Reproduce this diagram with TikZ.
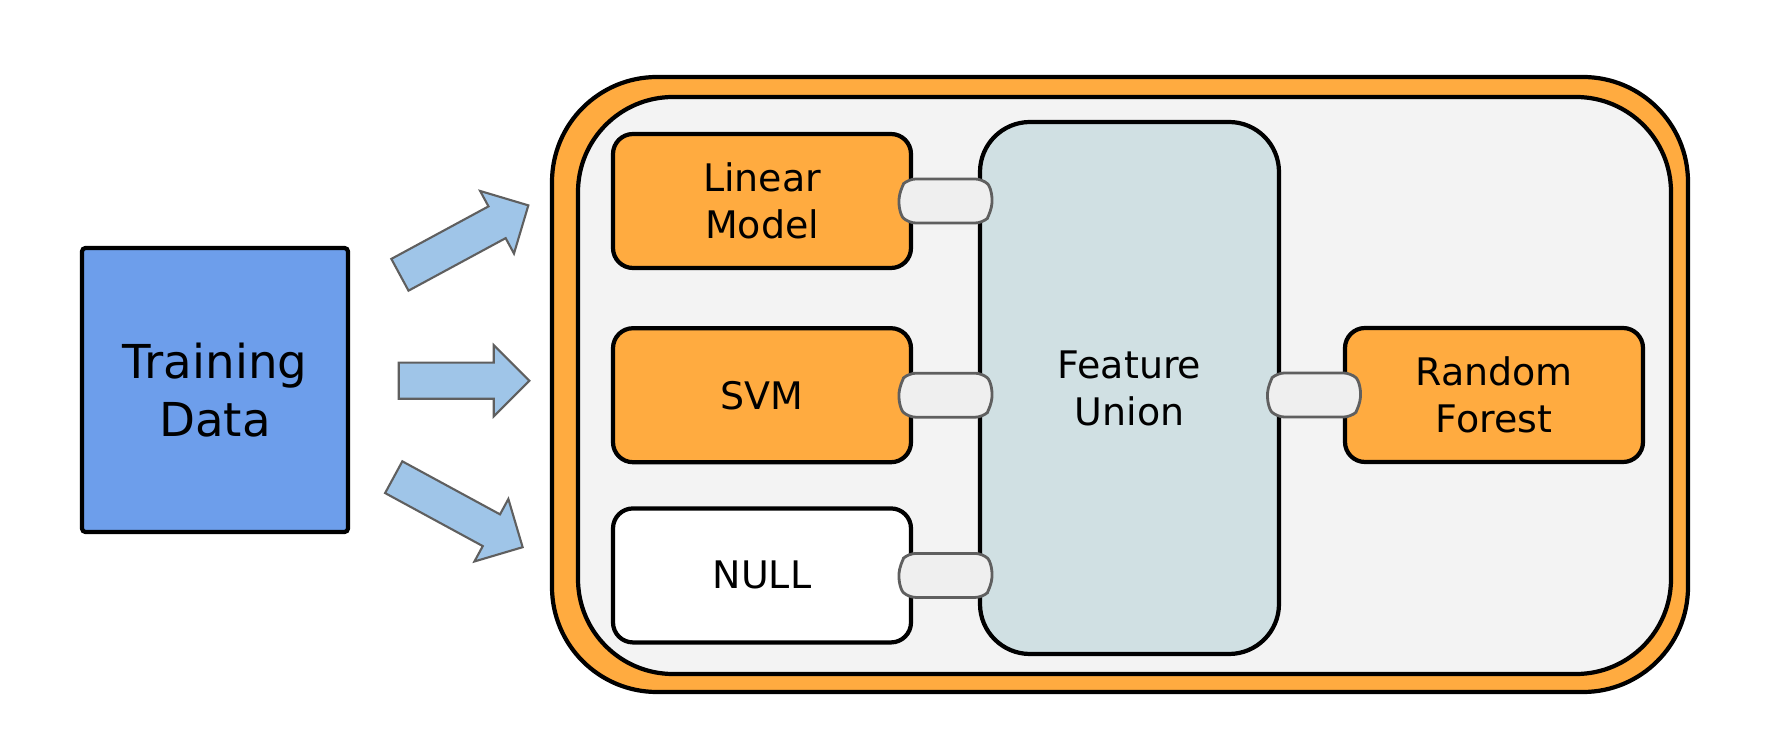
\documentclass[tikz,border=0pt]{standalone}
\usepackage{fontspec}
\setmainfont{DejaVu Sans}
\usetikzlibrary{shapes.arrows,shapes.misc,positioning,calc}

\definecolor{dataBlue}{HTML}{6D9EEB}
\definecolor{arrowBlue}{HTML}{9FC5E8}
\definecolor{boxOrange}{HTML}{FFAB40}
\definecolor{unionCyan}{HTML}{D0E0E3}
\definecolor{panelGray}{HTML}{F3F3F3}
\definecolor{linkGray}{HTML}{EFEFEF}
\definecolor{edgeGray}{HTML}{5F5F5F}

\begin{document}
\begin{tikzpicture}[
    data/.style={rectangle, draw, line width=1.2pt, fill=dataBlue, rounded corners=1pt, minimum width=2.66cm, minimum height=2.84cm, align=center, font=\fontsize{13.3}{16.5}\selectfont},
    model/.style={rectangle, draw, line width=1.2pt, fill=boxOrange, rounded corners=0.2cm, minimum width=2.98cm, minimum height=1.34cm, align=center, font=\fontsize{10.8}{13.4}\selectfont},
    union/.style={model, fill=unionCyan, rounded corners=0.5cm, minimum width=2.99cm, minimum height=5.32cm},
    panel/.style={rectangle, draw, line width=1.2pt},
    link/.style={rounded rectangle, rounded rectangle arc length=95, rounded corners=2pt, draw=edgeGray, line width=0.8pt, fill=linkGray, minimum width=0.93cm, minimum height=0.44cm, inner sep=0pt},
    bigarrow/.style={single arrow, draw=edgeGray, line width=0.6pt, fill=arrowBlue, single arrow head extend=0.175cm, single arrow tip angle=90, inner xsep=0pt, inner ysep=0.17cm, minimum height=#1, anchor=tail}
]
\useasboundingbox (0,0) rectangle (17.83,7.56);

% Ensemble frame
\node[panel, fill=boxOrange, rounded corners=1.05cm, minimum width=11.36cm, minimum height=6.15cm] (ensemble) at (11.20,3.715) {};
\node[panel, fill=panelGray, rounded corners=0.95cm, minimum width=10.93cm, minimum height=5.77cm] (stack) at (11.245,3.705) {};

% Base models
\node[model] (linear) at (7.62,5.55) {Linear\\Model};
\node[model, below=0.56cm of linear] (svm) {SVM};
\node[model, fill=white, below=0.42cm of svm] (null) {NULL};

% Feature union and final model
\node[union] (fu) at (11.295,3.68) {Feature\\Union};
\node[model] (forest) at (14.94,3.61) {Random\\Forest};

% Links
\node[link] (linkA) at ($(linear.east)!0.5!(linear.east -| fu.west)$) {};
\node[link] (linkB) at ($(svm.east)!0.5!(svm.east -| fu.west)$) {};
\node[link] (linkC) at ($(null.east)!0.5!(null.east -| fu.west)$) {};
\node[link, anchor=west] (linkD) at ([xshift=-0.15cm]fu.east |- forest.west) {};

% Input
\node[data] (train) at (2.15,3.66) {Training\\Data};

% Arrows
\node[bigarrow=1.46cm, rotate=28.4] (arrA) at (3.99,4.807) {};
\node[bigarrow=1.306cm] (arrB) at (3.977,3.753) {};
\node[bigarrow=1.467cm, rotate=-28.5] (arrC) at (3.928,2.793) {};

\end{tikzpicture}
\end{document}
